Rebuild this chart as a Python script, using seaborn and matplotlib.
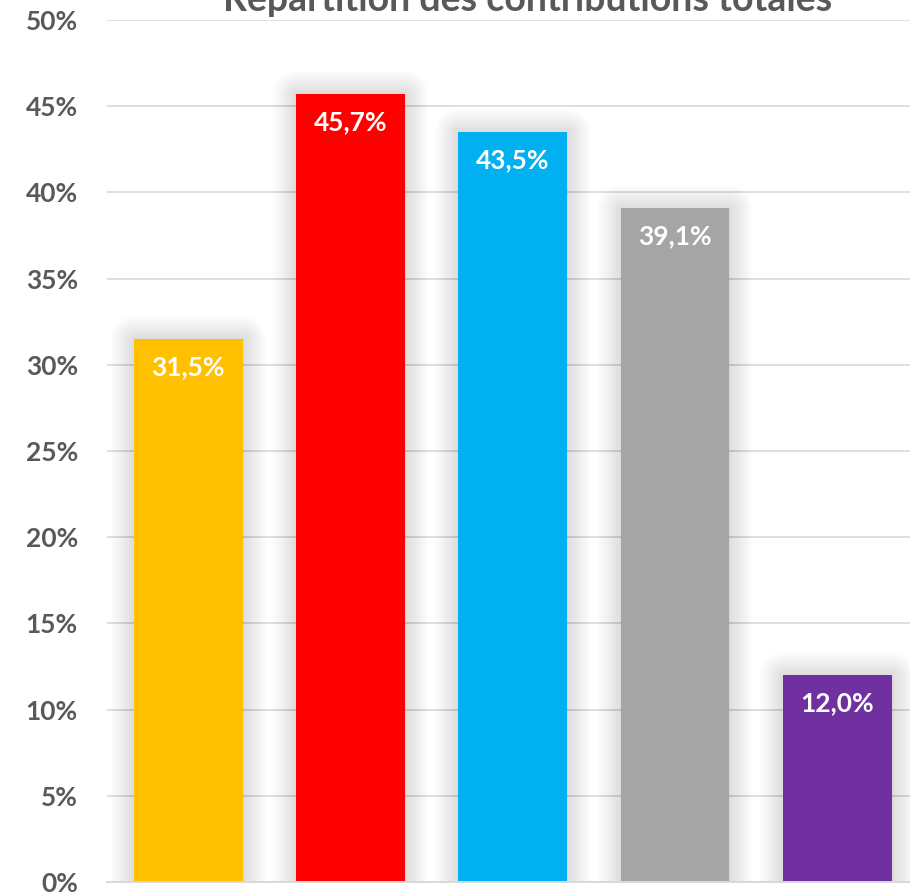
import matplotlib
matplotlib.use("Agg")
import matplotlib.pyplot as plt
import matplotlib.patheffects as pe
import seaborn as sns
import pandas as pd
import numpy as np

# ----------- Data ---------------------

categories = ["A", "B", "C", "D", "E"]
values = [31.5, 45.7, 43.5, 39.1, 12.0]
colors = ["#FFC000", "#FF0000", "#00B0F0", "#A5A5A5", "#7030A0"]
yticks = [0, 5, 10, 15, 20, 25, 30, 35, 40, 45, 50]
title = "Répartition des contributions totales"

df = pd.DataFrame({"cat": categories, "val": values})

# ----------- Style ---------------------

sns.set_theme(style="white")
plt.rcParams["font.family"] = ["Lato", "DejaVu Sans"]
text_grey = "#595959"
grid_grey = "#D9D9D9"

fig = plt.figure(figsize=(9.10, 8.93), dpi=100)
ax = fig.add_axes([107 / 910, 11 / 893, (910 - 107) / 910, (882 - 20) / 893])

chart = sns.barplot(data=df, x="cat", y="val", hue="cat", palette=colors,
                    legend=False, width=0.67, saturation=1, ax=ax)

# soft shadow around the bars
shadow = [pe.Stroke(linewidth=w, foreground="black", alpha=0.012, joinstyle="round")
          for w in range(3, 34, 3)]
for bar in ax.patches:
    bar.set_edgecolor("none")
    bar.set_path_effects(shadow + [pe.Normal()])

# data labels
for i, v in enumerate(values):
    chart.annotate(f"{v:.1f}%".replace(".", ","), (i, v), xytext=(0, -28),
                   textcoords="offset pixels", ha="center", va="center",
                   color="white", fontsize=19, fontweight="bold")

ax.set_ylim(0, 50)
ax.set_xlim(-0.5, -0.5 + (910 - 107) / 162.3)
ax.set_yticks(yticks)
ax.set_yticklabels([f"{t}%" for t in yticks], fontsize=19, fontweight="bold", color=text_grey)
ax.tick_params(axis="y", length=0, pad=21)
ax.set_xticks([])
ax.set_xlabel("")
ax.set_ylabel("")
ax.set_axisbelow(True)
ax.yaxis.grid(True, color=grid_grey, linewidth=1.2)

for side in ["left", "right", "top"]:
    ax.spines[side].set_visible(False)
ax.spines["bottom"].set_color(grid_grey)
ax.spines["bottom"].set_linewidth(1.4)

fig.text(528 / 910, (893 - 11) / 893, title, ha="center", va="baseline",
         fontsize=27, fontweight="bold", color=text_grey)

fig.savefig("out.png", dpi=100)
